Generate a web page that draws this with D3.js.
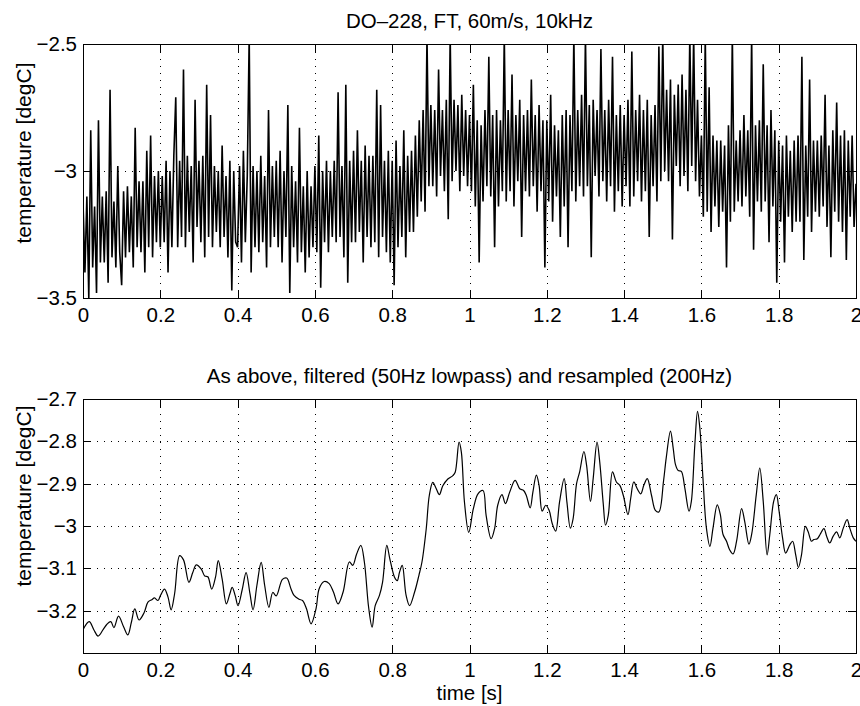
<!DOCTYPE html>
<html>
<head>
<meta charset="utf-8">
<script src="https://cdn.jsdelivr.net/npm/d3@7"></script>
<style>
    body { margin: 0; background: #fff; }
    svg { display: block; font-family: "Liberation Sans", Arial, Helvetica, sans-serif; }
    .axis text { font-size: 20.5px; fill: #000; }
    .axis path, .axis line { stroke: #000; shape-rendering: crispEdges; }
    .grid line { stroke: #000; stroke-dasharray: 1,6; shape-rendering: crispEdges; }
    .grid path { display: none; }
    .label { font-size: 20.5px; fill: #000; }
    .ylabel { font-size: 21px; fill: #000; }
</style>
</head>
<body>
<div id="chart"></div>
<script>
// Panel titles and axis labels
let titles = ["DO\u2013228, FT, 60m/s, 10kHz", "As above, filtered (50Hz lowpass) and resampled (200Hz)"];
let yLabel = "temperature [degC]";
let xLabel = "time [s]";

// Tick values
let xTicks = [0, 0.2, 0.4, 0.6, 0.8, 1, 1.2, 1.4, 1.6, 1.8, 2];
let topYTicks = [-3.5, -3, -2.5];
let lowYTicks = [-3.2, -3.1, -3, -2.9, -2.8, -2.7];

// Raw signal, every 5 ms (spikes and band edges)
let topRate = 200;
let topTemp = [
    -3.12, -3.40, -3.10, -3.50, -2.84, -3.38, -3.14, -3.48, -2.80, -3.36,
    -3.10, -3.36, -3.08, -3.44, -2.68, -3.34, -3.12, -3.38, -2.98, -3.32,
    -3.45, -3.08, -3.34, -3.06, -3.32, -3.10, -3.38, -2.83, -3.30, -3.04,
    -3.32, -3.04, -3.40, -2.92, -3.30, -2.86, -3.34, -3.02, -3.28, -3.00,
    -3.30, -3.02, -3.28, -2.96, -3.40, -3.00, -3.30, -2.94, -2.71, -3.30,
    -2.96, -3.26, -2.60, -3.30, -2.94, -3.24, -2.98, -3.36, -2.72, -3.22,
    -2.96, -3.28, -2.94, -3.34, -2.66, -3.26, -2.78, -3.30, -2.98, -3.24,
    -3.00, -3.30, -2.90, -3.26, -3.02, -3.34, -2.96, -3.47, -3.00, -3.28,
    -3.30, -2.98, -3.36, -2.92, -3.28, -3.02, -2.47, -3.40, -2.98, -3.30,
    -3.00, -3.32, -2.94, -3.28, -3.02, -3.38, -2.76, -3.30, -2.98, -3.26,
    -2.96, -3.30, -2.92, -3.36, -3.00, -3.26, -2.74, -3.48, -2.98, -3.30,
    -3.04, -3.36, -2.83, -3.32, -3.06, -3.40, -3.00, -3.34, -3.06, -3.30,
    -2.98, -3.32, -2.86, -3.46, -3.00, -3.28, -2.96, -3.32, -3.00, -3.26,
    -2.96, -3.28, -2.69, -3.26, -2.98, -3.34, -2.66, -3.44, -2.96, -3.28,
    -2.92, -3.28, -2.84, -3.24, -2.96, -3.36, -2.90, -3.26, -2.94, -3.30,
    -2.94, -3.28, -2.68, -3.34, -2.74, -3.26, -2.96, -3.32, -2.92, -3.36,
    -2.96, -3.45, -2.88, -3.30, -2.98, -3.26, -2.84, -3.34, -2.94, -3.24,
    -2.92, -3.24, -2.86, -3.18, -2.80, -3.12, -2.76, -3.16, -2.47, -3.06,
    -2.74, -3.06, -2.76, -3.10, -2.60, -3.02, -2.76, -3.08, -2.72, -3.19,
    -2.47, -3.04, -2.72, -3.00, -2.74, -3.08, -2.70, -3.02, -2.76, -3.06,
    -2.78, -3.08, -2.66, -3.14, -2.80, -3.36, -2.82, -3.12, -2.76, -3.06,
    -2.55, -3.10, -2.78, -3.30, -2.76, -3.14, -2.80, -3.08, -2.47, -3.12,
    -2.76, -3.08, -2.62, -3.14, -2.78, -3.04, -2.72, -3.26, -2.78, -3.08,
    -2.76, -3.10, -2.64, -3.06, -2.78, -3.16, -2.74, -3.08, -2.80, -3.38,
    -2.80, -3.12, -2.70, -3.20, -2.82, -3.10, -2.84, -3.26, -2.78, -3.14,
    -2.76, -3.30, -2.78, -3.08, -2.47, -3.12, -2.76, -3.06, -2.70, -3.10,
    -2.47, -3.06, -2.74, -3.34, -2.72, -3.02, -2.76, -3.10, -2.52, -3.04,
    -2.76, -3.12, -2.72, -3.06, -2.55, -3.16, -2.78, -3.08, -2.74, -3.14,
    -2.78, -3.06, -2.72, -3.14, -2.53, -3.10, -2.76, -3.04, -2.70, -3.12,
    -2.76, -3.08, -2.72, -3.26, -2.78, -3.06, -2.74, -3.12, -2.51, -3.04,
    -2.47, -3.00, -2.68, -3.04, -2.64, -3.27, -2.70, -2.98, -2.66, -3.06,
    -2.62, -3.02, -2.68, -3.08, -2.47, -2.98, -2.47, -3.04, -2.72, -3.10,
    -2.86, -3.18, -2.47, -3.16, -2.67, -3.24, -2.86, -3.14, -2.88, -3.22,
    -2.88, -3.16, -2.90, -3.38, -2.82, -3.20, -2.47, -3.16, -2.88, -3.12,
    -2.84, -3.14, -2.78, -3.10, -2.84, -3.18, -2.47, -3.31, -2.82, -3.12,
    -2.80, -3.16, -2.58, -3.12, -2.82, -3.28, -2.76, -3.14, -2.84, -3.44,
    -2.88, -3.20, -2.90, -3.36, -2.86, -3.18, -2.92, -3.24, -2.88, -3.20,
    -2.86, -3.20, -2.55, -3.35, -2.90, -3.18, -2.64, -3.24, -2.88, -3.16,
    -2.88, -3.18, -2.86, -3.14, -2.70, -3.22, -2.90, -3.34, -2.84, -3.16,
    -2.73, -3.20, -2.86, -3.24, -2.84, -3.35, -2.88, -3.18, -2.86, -3.22,
    -3.05
];

// Filtered / resampled signal
let lowTime = [
    0.000, 0.016, 0.028, 0.039, 0.052, 0.062, 0.072, 0.080, 0.092, 0.105,
    0.116, 0.125, 0.134, 0.145, 0.158, 0.168, 0.178, 0.185, 0.194, 0.201,
    0.211, 0.220, 0.228, 0.237, 0.250, 0.260, 0.274, 0.284, 0.293, 0.306,
    0.315, 0.323, 0.333, 0.343, 0.350, 0.360, 0.371, 0.380, 0.386, 0.394,
    0.401, 0.412, 0.422, 0.432, 0.440, 0.450, 0.461, 0.470, 0.481, 0.491,
    0.500, 0.516, 0.527, 0.538, 0.546, 0.559, 0.568, 0.578, 0.590, 0.603,
    0.611, 0.624, 0.637, 0.648, 0.660, 0.673, 0.689, 0.698, 0.708, 0.719,
    0.728, 0.739, 0.748, 0.756, 0.767, 0.775, 0.786, 0.794, 0.806, 0.813,
    0.819, 0.826, 0.836, 0.845, 0.858, 0.869, 0.877, 0.888, 0.896, 0.905,
    0.914, 0.922, 0.931, 0.944, 0.957, 0.963, 0.973, 0.979, 0.987, 0.998,
    1.010, 1.022, 1.035, 1.043, 1.056, 1.065, 1.073, 1.084, 1.093, 1.104,
    1.118, 1.130, 1.140, 1.147, 1.157, 1.164, 1.173, 1.180, 1.188, 1.197,
    1.206, 1.214, 1.223, 1.233, 1.245, 1.252, 1.261, 1.268, 1.277, 1.285,
    1.296, 1.303, 1.313, 1.320, 1.330, 1.337, 1.346, 1.352, 1.359, 1.370,
    1.380, 1.389, 1.398, 1.410, 1.417, 1.425, 1.434, 1.443, 1.451, 1.460,
    1.471, 1.481, 1.490, 1.502, 1.509, 1.520, 1.527, 1.533, 1.540, 1.548,
    1.557, 1.568, 1.574, 1.583, 1.590, 1.596, 1.604, 1.613, 1.622, 1.630,
    1.641, 1.649, 1.656, 1.665, 1.673, 1.682, 1.691, 1.704, 1.712, 1.723,
    1.730, 1.742, 1.751, 1.760, 1.770, 1.777, 1.787, 1.794, 1.801, 1.810,
    1.818, 1.829, 1.836, 1.844, 1.851, 1.859, 1.869, 1.876, 1.885, 1.891,
    1.900, 1.907, 1.917, 1.924, 1.932, 1.941, 1.950, 1.958, 1.967, 1.977,
    1.984, 1.993, 2.000
];
let lowTemp = [
    -3.245, -3.226, -3.245, -3.260, -3.245, -3.232, -3.226, -3.240, -3.213, -3.238,
    -3.257, -3.228, -3.196, -3.222, -3.205, -3.180, -3.174, -3.170, -3.176, -3.163,
    -3.149, -3.168, -3.198, -3.160, -3.070, -3.080, -3.133, -3.110, -3.092, -3.102,
    -3.118, -3.120, -3.149, -3.120, -3.082, -3.125, -3.184, -3.160, -3.145, -3.165,
    -3.188, -3.150, -3.110, -3.160, -3.198, -3.140, -3.086, -3.140, -3.192, -3.157,
    -3.165, -3.126, -3.123, -3.148, -3.164, -3.173, -3.176, -3.195, -3.231, -3.195,
    -3.148, -3.131, -3.136, -3.156, -3.184, -3.156, -3.085, -3.093, -3.066, -3.046,
    -3.085, -3.192, -3.239, -3.188, -3.164, -3.133, -3.046, -3.078, -3.121, -3.129,
    -3.109, -3.093, -3.164, -3.188, -3.156, -3.117, -3.085, -3.007, -2.928, -2.897,
    -2.912, -2.926, -2.905, -2.889, -2.881, -2.873, -2.802, -2.826, -2.944, -3.015,
    -2.959, -2.924, -2.916, -2.975, -3.030, -3.006, -2.951, -2.926, -2.947, -2.920,
    -2.892, -2.912, -2.916, -2.928, -2.957, -2.920, -2.880, -2.904, -2.965, -2.951,
    -2.963, -2.994, -3.012, -2.943, -2.888, -2.943, -3.005, -2.983, -2.900, -2.872,
    -2.824, -2.857, -2.942, -2.888, -2.802, -2.849, -2.947, -2.998, -2.975, -2.872,
    -2.896, -2.904, -2.928, -2.973, -2.935, -2.896, -2.912, -2.924, -2.904, -2.888,
    -2.928, -2.963, -2.967, -2.894, -2.839, -2.776, -2.816, -2.855, -2.869, -2.871,
    -2.910, -2.965, -2.942, -2.808, -2.729, -2.769, -2.887, -3.005, -3.048, -3.005,
    -2.950, -2.973, -3.020, -3.036, -3.056, -3.066, -3.036, -2.959, -2.989, -3.043,
    -3.020, -2.926, -2.863, -2.942, -3.068, -3.020, -2.942, -2.926, -2.965, -3.028,
    -3.064, -3.044, -3.036, -3.068, -3.098, -3.068, -3.001, -3.013, -3.036, -3.032,
    -3.030, -3.020, -3.006, -3.024, -3.040, -3.024, -3.014, -3.028, -3.005, -2.985,
    -3.005, -3.028, -3.036
];

let svgWidth = 860, svgHeight = 706;
let margin = {left: 83, right: 4};
let panelWidth = svgWidth - margin.left - margin.right;
let panelHeight = 254;
let panelTops = [44, 399];
let yLabelShift = [-18, -30];   // y labels sit a bit above panel centre

let svg = d3.select("#chart").append("svg")
    .attr("width", svgWidth)
    .attr("height", svgHeight);

// minus sign like the original, no trailing zeros
let fmt = d => String(+d.toFixed(2)).replace("-", "\u2212");

let x = d3.scaleLinear().domain([0, 2]).range([0, panelWidth]);

function drawPanel(idx, yDomain, yTicks, title) {
    let g = svg.append("g")
        .attr("transform", "translate(" + margin.left + "," + panelTops[idx] + ")");

    let y = d3.scaleLinear().domain(yDomain).range([panelHeight, 0]);

    // dotted grid
    g.append("g")
        .attr("class", "grid")
        .attr("transform", "translate(0," + panelHeight + ")")
        .call(d3.axisBottom(x).tickValues(xTicks.slice(1, -1)).tickSize(-panelHeight).tickFormat(""));
    g.append("g")
        .attr("class", "grid")
        .call(d3.axisLeft(y).tickValues(yTicks.filter(v => v > yDomain[0] && v < yDomain[1])).tickSize(-panelWidth).tickFormat(""));

    // axes with inward ticks on all four sides
    g.append("g")
        .attr("class", "axis")
        .attr("transform", "translate(0," + panelHeight + ")")
        .call(d3.axisBottom(x).tickValues(xTicks).tickSizeInner(-8).tickSizeOuter(0).tickPadding(9).tickFormat(fmt));
    g.append("g")
        .attr("class", "axis")
        .call(d3.axisTop(x).tickValues(xTicks).tickSizeInner(-8).tickSizeOuter(0).tickFormat(""));
    g.append("g")
        .attr("class", "axis")
        .call(d3.axisLeft(y).tickValues(yTicks).tickSizeInner(-8).tickSizeOuter(0).tickPadding(6).tickFormat(fmt));
    g.append("g")
        .attr("class", "axis")
        .attr("transform", "translate(" + panelWidth + ",0)")
        .call(d3.axisRight(y).tickValues(yTicks).tickSizeInner(-8).tickSizeOuter(0).tickFormat(""));

    g.append("defs").append("clipPath")
        .attr("id", "clip" + idx)
        .append("rect")
        .attr("width", panelWidth)
        .attr("height", panelHeight);

    g.append("text")
        .attr("class", "label")
        .attr("x", panelWidth / 2)
        .attr("y", -16)
        .attr("text-anchor", "middle")
        .text(title);

    g.append("text")
        .attr("class", "ylabel")
        .attr("transform", "translate(" + (31 - margin.left) + "," + (panelHeight / 2 + yLabelShift[idx]) + ") rotate(-90)")
        .attr("text-anchor", "middle")
        .text(yLabel);

    return {g: g, y: y};
}

// Upper panel: raw 10 kHz record
let upper = drawPanel(0, [-3.5, -2.5], topYTicks, titles[0]);
let upperLine = d3.line()
    .x((d, i) => x(i / topRate))
    .y(d => upper.y(d));
upper.g.append("path")
    .datum(topTemp)
    .attr("clip-path", "url(#clip0)")
    .attr("fill", "none")
    .attr("stroke", "#000")
    .attr("stroke-width", 1.6)
    .attr("stroke-linejoin", "miter")
    .attr("d", upperLine);

// Lower panel: filtered and resampled
let lower = drawPanel(1, [-3.3, -2.7], lowYTicks, titles[1]);
let lowerLine = d3.line()
    .x((d, i) => x(lowTime[i]))
    .y(d => lower.y(d))
    .curve(d3.curveCatmullRom.alpha(0.5));
lower.g.append("path")
    .datum(lowTemp)
    .attr("clip-path", "url(#clip1)")
    .attr("fill", "none")
    .attr("stroke", "#000")
    .attr("stroke-width", 1.2)
    .attr("d", lowerLine);

lower.g.append("text")
    .attr("class", "label")
    .attr("x", panelWidth / 2)
    .attr("y", panelHeight + 47)
    .attr("text-anchor", "middle")
    .text(xLabel);
</script>
</body>
</html>
